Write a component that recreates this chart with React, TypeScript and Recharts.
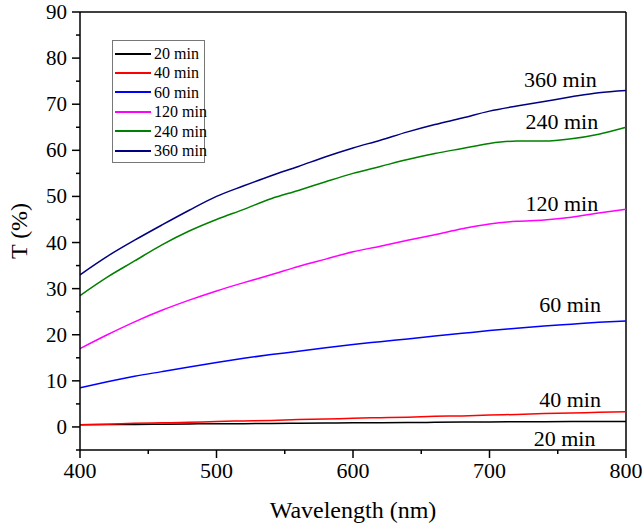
import React from 'react';
import { LineChart, Line, XAxis, YAxis, ReferenceLine, ReferenceDot } from 'recharts';

const wavelength = [400, 420, 440, 460, 480, 500, 520, 540, 560, 580, 600, 620, 640, 660, 680, 700, 720, 740, 760, 780, 800];

const t20 = [0.5, 0.52, 0.55, 0.6, 0.65, 0.7, 0.72, 0.75, 0.8, 0.85, 0.9, 0.92, 0.95, 1.0, 1.05, 1.1, 1.12, 1.15, 1.18, 1.2, 1.2];
const t40 = [0.5, 0.6, 0.8, 0.9, 1.0, 1.2, 1.3, 1.4, 1.6, 1.7, 1.9, 2.0, 2.1, 2.3, 2.4, 2.6, 2.7, 2.9, 3.0, 3.2, 3.3];
const t60 = [8.5, 9.8, 11, 12, 13, 14, 14.9, 15.7, 16.4, 17.2, 17.9, 18.5, 19.1, 19.7, 20.3, 20.9, 21.4, 21.9, 22.3, 22.7, 23];
const t120 = [17, 20, 22.8, 25.3, 27.5, 29.5, 31.3, 33, 34.8, 36.4, 38, 39.2, 40.5, 41.7, 43, 44, 44.6, 44.9, 45.5, 46.4, 47.2];
const t240 = [28.5, 32.5, 36, 39.5, 42.5, 45, 47.2, 49.5, 51.3, 53.2, 55, 56.5, 58, 59.3, 60.4, 61.5, 62, 62, 62.5, 63.5, 65];
const t360 = [33, 37, 40.5, 43.8, 47, 50, 52.3, 54.5, 56.5, 58.6, 60.5, 62.2, 64, 65.6, 67, 68.5, 69.6, 70.6, 71.6, 72.5, 73];

const series = [
  { key: 's20', name: '20 min', color: '#000000', values: t20, labelX: 755, labelY: -2.4 },
  { key: 's40', name: '40 min', color: '#ff0000', values: t40, labelX: 759, labelY: 6.1 },
  { key: 's60', name: '60 min', color: '#0000ff', values: t60, labelX: 759, labelY: 26.7 },
  { key: 's120', name: '120 min', color: '#ff00ff', values: t120, labelX: 753, labelY: 48.6 },
  { key: 's240', name: '240 min', color: '#008000', values: t240, labelX: 753, labelY: 66.4 },
  { key: 's360', name: '360 min', color: '#000080', values: t360, labelX: 752, labelY: 75.5 },
];

const yTicks = [-5, 0, 5, 10, 15, 20, 25, 30, 35, 40, 45, 50, 55, 60, 65, 70, 75, 80, 85, 90];
const xTicks = [400, 450, 500, 550, 600, 650, 700, 750, 800];

const data = wavelength.map((w, i) => {
  const row: Record<string, number> = { w };
  series.forEach((s) => (row[s.key] = s.values[i]));
  return row;
});

const FONT = 'Liberation Serif';

const YTick = (props: any) => {
  const { x, y, payload } = props;
  const major = payload.value % 10 === 0;
  return (
    <g>
      <line x1={x} x2={x - (major ? 8 : 4)} y1={y} y2={y} stroke="#000" strokeWidth={1.5} />
      {major && (
        <text x={x - 13} y={y} dy={7} textAnchor="end" style={{ fontFamily: FONT, fontSize: 21, fill: '#000' }}>
          {payload.value}
        </text>
      )}
    </g>
  );
};

const XTick = (props: any) => {
  const { x, y, payload } = props;
  const major = payload.value % 100 === 0;
  return (
    <g>
      <line x1={x} x2={x} y1={y} y2={y + (major ? 8 : 4)} stroke="#000" strokeWidth={1.5} />
      {major && (
        <text x={x} y={y + 28} textAnchor="middle" style={{ fontFamily: FONT, fontSize: 22, fill: '#000' }}>
          {payload.value}
        </text>
      )}
    </g>
  );
};

const LegendBox = () => (
  <div
    style={{
      position: 'absolute',
      left: 112,
      top: 40,
      border: '1px solid #777',
      background: '#fff',
      padding: '3px 2px 2px 2px',
      fontFamily: FONT,
      fontSize: 16,
      lineHeight: '19.4px',
      width: 93,
      boxSizing: 'border-box',
      whiteSpace: 'nowrap',
      color: '#000',
    }}
  >
    {series.map((s) => (
      <div key={s.key} style={{ display: 'flex', alignItems: 'center', height: 19.4 }}>
        <span style={{ display: 'inline-block', width: 36, height: 0, borderTop: `2px solid ${s.color}`, marginRight: 3, flexShrink: 0 }} />
        <span>{s.name}</span>
      </div>
    ))}
  </div>
);

export default function App() {
  return (
    <div style={{ position: 'absolute', left: 0, top: 0, width: 644, height: 530, background: '#fff', fontFamily: FONT }}>
      <LineChart width={644} height={530} data={data} margin={{ top: 12, right: 18, left: 0, bottom: 0 }}>
        <XAxis
          dataKey="w"
          type="number"
          domain={[400, 800]}
          ticks={xTicks}
          interval={0}
          height={80}
          tickSize={0}
          tickMargin={0}
          tick={<XTick />}
          axisLine={{ stroke: '#000', strokeWidth: 1.5 }}
          tickLine={false}
          label={{ value: 'Wavelength (nm)', position: 'insideBottom', offset: 12, style: { fontSize: 24, fontFamily: FONT, fill: '#000' } }}
        />
        <YAxis
          type="number"
          domain={[-5, 90]}
          ticks={yTicks}
          interval={0}
          width={80}
          tickSize={0}
          tickMargin={0}
          tick={<YTick />}
          axisLine={{ stroke: '#000', strokeWidth: 1.5 }}
          tickLine={false}
          label={{ value: 'T (%)', angle: -90, position: 'insideLeft', offset: 18, style: { fontSize: 24, fontFamily: FONT, textAnchor: 'middle', fill: '#000' } }}
        />
        <ReferenceLine y={90} stroke="#000" strokeWidth={1.5} />
        <ReferenceLine x={800} stroke="#000" strokeWidth={1.5} />
        {series.map((s) => (
          <Line
            key={s.key}
            dataKey={s.key}
            name={s.name}
            stroke={s.color}
            strokeWidth={1.5}
            dot={false}
            isAnimationActive={false}
            type="monotone"
          />
        ))}
        {series.map((s) => (
          <ReferenceDot
            key={`lbl-${s.key}`}
            x={s.labelX}
            y={s.labelY}
            r={0}
            stroke="none"
            fill="none"
            label={{ value: s.name, position: 'center', style: { fontSize: 22, fontFamily: FONT, fill: '#000' } }}
          />
        ))}
      </LineChart>
      <LegendBox />
    </div>
  );
}
